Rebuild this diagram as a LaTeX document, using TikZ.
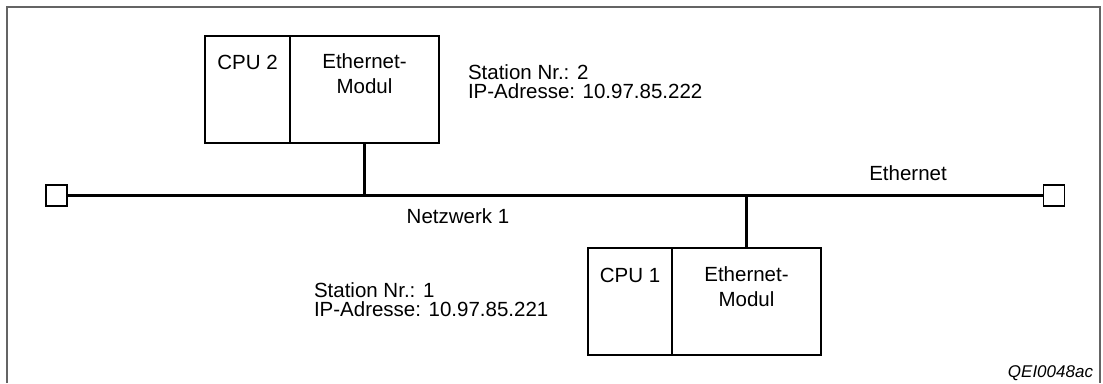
\documentclass[tikz,border=0pt]{standalone}
\usepackage{fontspec}
\setmainfont{Liberation Sans}
\usetikzlibrary{calc}
\definecolor{framegray}{HTML}{646464}
\begin{document}
\begin{tikzpicture}[x=1pt,y=-1pt,
  frameline/.style={draw=framegray, line width=2pt},
  unitbox/.style={draw=black, line width=1.5pt, inner sep=0pt, outer sep=0pt, minimum height=107pt, anchor=north west},
  divider/.style={draw=black, line width=2.6pt},
  term/.style={draw=black, line width=1.6pt, minimum size=21pt, inner sep=0pt, outer sep=0pt},
  busline/.style={draw=black, line width=2.6pt},
  lbl/.style={font=\fontsize{20.5}{20.5}\selectfont, inner sep=0pt, outer sep=0pt},
  modlbl/.style={font=\fontsize{20.5}{25}\selectfont, inner sep=0pt, outer sep=0pt, align=center, anchor=north},
  stlbl/.style={font=\fontsize{20.5}{19}\selectfont, inner sep=0pt, outer sep=0pt, align=left, anchor=north west},
  reflbl/.style={font=\fontsize{17}{17}\selectfont\itshape, inner sep=0pt, outer sep=0pt, anchor=base east}
]
\useasboundingbox (0,0) rectangle (1103,383);
% frame (open at the bottom)
\draw[frameline] (7,383) -- (7,7) -- (1100,7) -- (1100,383);

% station 2 (upper)
\node[unitbox, minimum width=85pt] (cpu2) at (205,36) {};
\node[unitbox, minimum width=149pt] (mod2) at (290,36) {};
\draw[divider] (cpu2.north east) -- (cpu2.south east);
\node[lbl, anchor=base] (cpu2t) at ($(cpu2.north)+(0,33)$) {CPU 2};
\node[modlbl] (mod2t) at ($(mod2.north)+(0,18)$) {Ethernet-\\Modul};

% station 1 (lower)
\node[unitbox, minimum width=84pt] (cpu1) at (588,248) {};
\node[unitbox, minimum width=149pt] (mod1) at (672,248) {};
\draw[divider] (cpu1.north east) -- (cpu1.south east);
\node[lbl, anchor=base] (cpu1t) at ($(cpu1.north)+(0,34)$) {CPU 1};
\node[modlbl] (mod1t) at ($(mod1.north)+(0,19)$) {Ethernet-\\Modul};

% bus with terminators
\node[term] (termL) at (56.5,195.5) {};
\node[term] (termR) at (1054,195.5) {};
\draw[busline] (termL.east) -- (termR.west);
\draw[busline] (mod2.south) -- (mod2.south |- termL.east);
\draw[busline] (mod1.north) -- (mod1.north |- termL.east);

% labels
\node[stlbl] (st2) at (468,65) {Station Nr.: 2\\IP-Adresse: 10.97.85.222};
\node[stlbl] (st1) at (314,283) {Station Nr.: 1\\IP-Adresse: 10.97.85.221};
\node[lbl, anchor=base] (netz) at (458,223) {Netzwerk 1};
\node[lbl, anchor=base] (eth) at (908,180) {Ethernet};
\node[reflbl] (ref) at (1093,377) {QEI0048ac};
\end{tikzpicture}
\end{document}
